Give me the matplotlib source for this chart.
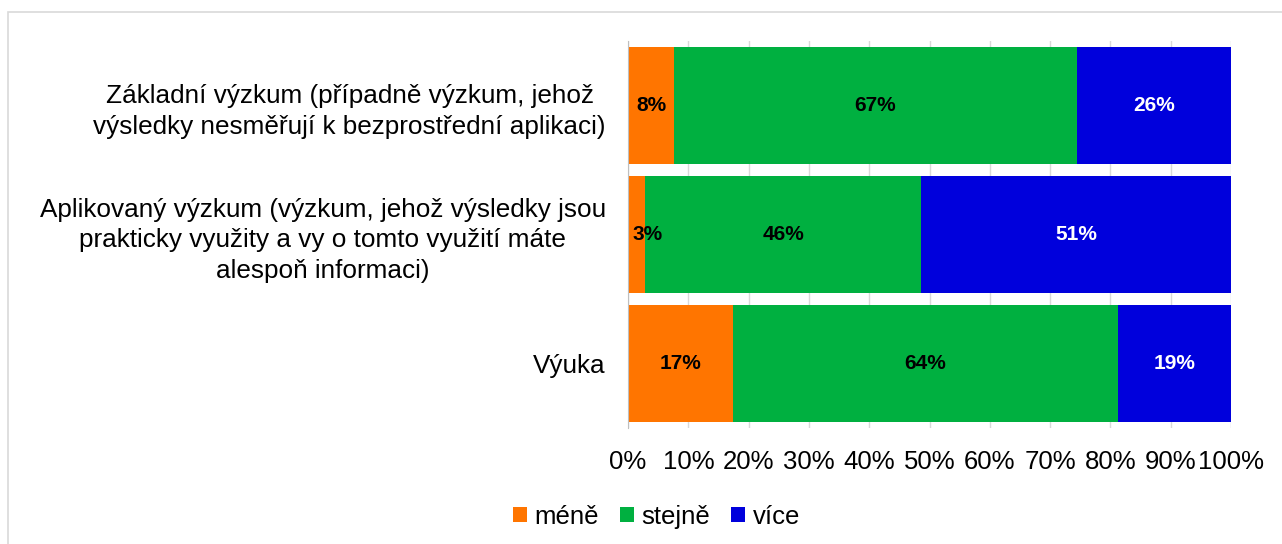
import matplotlib.pyplot as plt
from matplotlib.patches import Rectangle

plt.rcParams['font.family'] = ['Liberation Sans', 'DejaVu Sans']

categories = [
    'Základní výzkum (případně výzkum, jehož\nvýsledky nesměřují k bezprostřední aplikaci)',
    'Aplikovaný výzkum (výzkum, jehož výsledky jsou\nprakticky využity a vy o tomto využití máte\nalespoň informaci)',
    'Výuka',
]
mene = [7.6, 2.8, 17.4]
stejne = [66.9, 45.8, 63.9]
vice = [25.5, 51.4, 18.7]
labels_mene = ['8%', '3%', '17%']
labels_stejne = ['67%', '46%', '64%']
labels_vice = ['26%', '51%', '19%']
series_names = ['méně', 'stejně', 'více']
colors = ['#FF7500', '#00B040', '#0000DC']
text_colors = ['black', 'black', 'white']

fig = plt.figure(figsize=(12.82, 5.44), dpi=100)
ax = fig.add_axes([0.4899, 0.2132, 0.4703, 0.7114])

# svetle seda ramecek kolem grafu
fig.patches.append(Rectangle((8 / 1282, -0.1), 1.2, 1 - 12 / 544 + 0.1,
                             transform=fig.transFigure, fill=False,
                             edgecolor='#D9D9D9', linewidth=1.2))

y = list(range(len(categories)))
left = [0, 0, 0]
for vals, labs, name, col, tcol in zip([mene, stejne, vice],
                                       [labels_mene, labels_stejne, labels_vice],
                                       series_names, colors, text_colors):
    ax.barh(y, vals, left=left, height=0.9, color=col, label=name, zorder=3)
    for yi, l, v, lab in zip(y, left, vals, labs):
        # popisek uprostred segmentu, u uzkych segmentu kousek od osy
        xc = max(l + v / 2, 3.3)
        ax.text(xc, yi, lab, ha='center', va='center', color=tcol,
                fontsize=15, fontweight='bold', zorder=5)
    left = [a + b for a, b in zip(left, vals)]

ax.set_xlim(0, 100)
ax.set_ylim(2.5, -0.5)
ax.set_xticks(range(0, 101, 10))
ax.set_xticklabels([f'{t}%' for t in range(0, 101, 10)], fontsize=18.5)
ax.set_yticks(y)
ax.set_yticklabels(categories, fontsize=18.8, multialignment='center',
                   linespacing=1.35)
ax.tick_params(axis='both', length=0)
ax.tick_params(axis='x', pad=16)
ax.tick_params(axis='y', pad=16)
ax.grid(axis='x', color='#D9D9D9', linewidth=1, zorder=0)
for s in ['top', 'right', 'bottom']:
    ax.spines[s].set_visible(False)
ax.spines['left'].set_color('#BFBFBF')
ax.spines['left'].set_zorder(4)

fig.legend(loc='center', bbox_to_anchor=(0.512, 0.05), ncol=3, frameon=False,
           fontsize=18.5, handlelength=0.55, handleheight=0.55, handletextpad=0.3,
           columnspacing=0.8)

fig.savefig('out.png', dpi=100)
